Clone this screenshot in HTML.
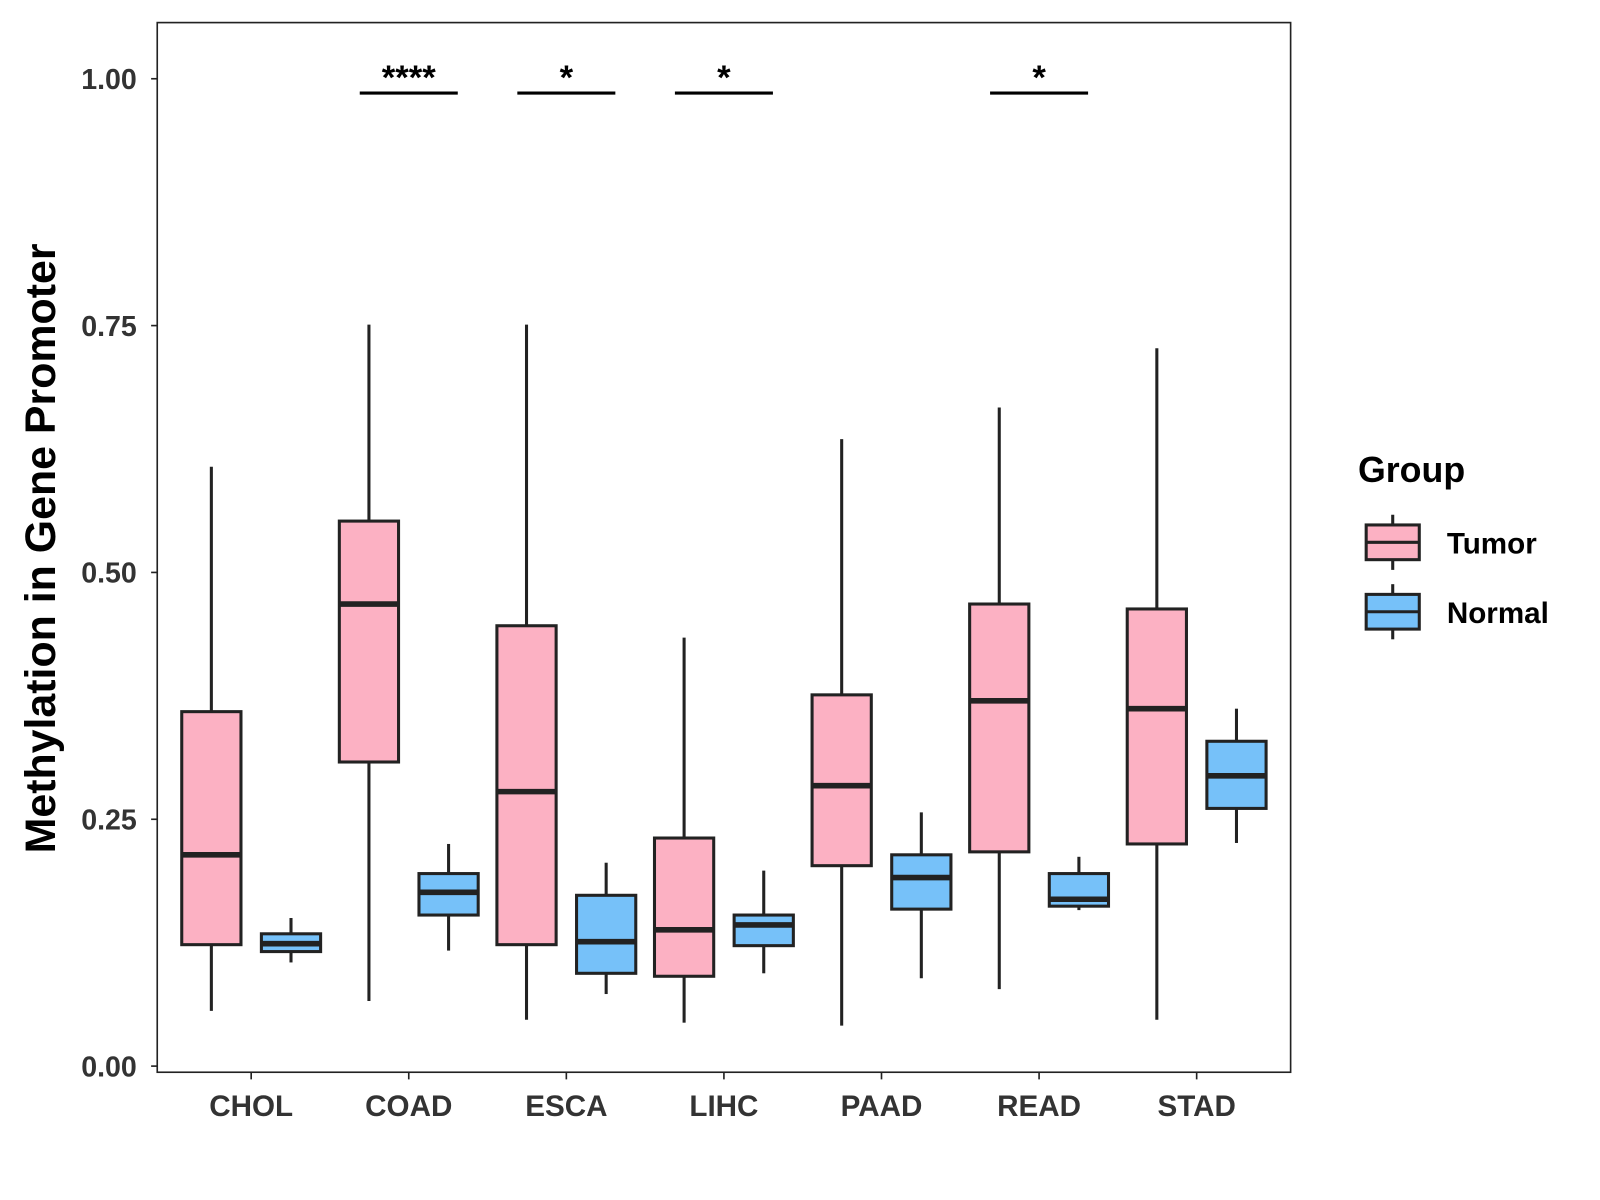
<!DOCTYPE html>
<html><head><meta charset="utf-8"><style>body{margin:0;background:#fff}svg{display:block}</style></head>
<body>
<svg id="chart" width="1600" height="1200" viewBox="0 0 1567 1175" xmlns="http://www.w3.org/2000/svg" font-family="Liberation Sans, Arial, sans-serif">
<rect x="0" y="0" width="1567" height="1175" fill="#fff"/>
<rect x="154" y="22" width="1110" height="1028" fill="none" stroke="#222" stroke-width="1.6"/>
<g id="g"></g>
<text transform="translate(54,537) rotate(-90)" text-anchor="middle" font-size="42" font-weight="bold" fill="#000">Methylation in Gene Promoter</text>
<g>
<text x="1330" y="472" font-size="35" font-weight="bold">Group</text>
<g>
<line x1="1364" y1="504" x2="1364" y2="558" stroke="#222" stroke-width="3"/>
<rect x="1338" y="514" width="52" height="34" fill="#FCB1C3" stroke="#222" stroke-width="3"/>
<line x1="1338" y1="531" x2="1390" y2="531" stroke="#222" stroke-width="3"/>
<text x="1417" y="542" font-size="29" font-weight="bold">Tumor</text></g>
<g>
<line x1="1364" y1="572" x2="1364" y2="626" stroke="#222" stroke-width="3"/>
<rect x="1338" y="582" width="52" height="34" fill="#76C1F9" stroke="#222" stroke-width="3"/>
<line x1="1338" y1="599" x2="1390" y2="599" stroke="#222" stroke-width="3"/>
<text x="1417" y="610" font-size="29" font-weight="bold">Normal</text></g>
</g>
</svg>
<script>
const categories=["CHOL","COAD","ESCA","LIHC","PAAD","READ","STAD"];
// [whiskerLow, q1, median, q3, whiskerHigh]
const tumor=[[0.056,0.123,0.214,0.359,0.607],[0.066,0.308,0.468,0.552,0.751],[0.047,0.123,0.278,0.446,0.751],[0.044,0.091,0.138,0.231,0.434],[0.041,0.203,0.284,0.376,0.635],[0.078,0.217,0.370,0.468,0.667],[0.047,0.225,0.362,0.463,0.727]];
const normal=[[0.105,0.116,0.124,0.134,0.150],[0.117,0.153,0.176,0.195,0.225],[0.073,0.094,0.126,0.173,0.206],[0.094,0.122,0.143,0.153,0.198],[0.089,0.159,0.191,0.214,0.257],[0.158,0.162,0.169,0.195,0.212],[0.226,0.261,0.294,0.329,0.362]];
const yTicks=[0,0.25,0.5,0.75,1.0];
const yTickLabels=["0.00","0.25","0.50","0.75","1.00"];
const sigCats=["COAD","ESCA","LIHC","READ"];
const sigLabels=["****","*","*","*"];
const sigLevel=0.9855;

const NS="http://www.w3.org/2000/svg";
const g=document.getElementById('g');
const y=v=>1044-v*967;
const x=i=>246+i*154.33;
function el(tag,attrs,parent){const e=document.createElementNS(NS,tag);for(const k in attrs)e.setAttribute(k,attrs[k]);(parent||g).appendChild(e);return e;}
yTicks.forEach((t,i)=>{
  const l=el('line',{x1:148,x2:154,y1:y(t),y2:y(t),stroke:'#222','stroke-width':1.6});
  
  
  const tx=el('text',{x:134,y:y(t)+10,'text-anchor':'end','font-size':28,'font-weight':'bold',fill:'#333'});
  tx.textContent=yTickLabels[i];
  
  
});
categories.forEach((c,i)=>{
  const l=el('line',{x1:x(i),x2:x(i),y1:1050,y2:1057,stroke:'#222','stroke-width':1.6});
  
  
  const tx=el('text',{x:x(i),y:1093,'text-anchor':'middle','font-size':29,'font-weight':'bold',fill:'#333'});
  tx.textContent=c;
  
  
});
function box(cx,d,fill,name){
  const grp=el('g',{});
  
  
  const hw=29;
  el('line',{x1:cx,x2:cx,y1:y(d[0]),y2:y(d[1]),stroke:'#222','stroke-width':3},grp);
  el('line',{x1:cx,x2:cx,y1:y(d[3]),y2:y(d[4]),stroke:'#222','stroke-width':3},grp);
  el('rect',{x:cx-hw,y:y(d[3]),width:2*hw,height:y(d[1])-y(d[3]),fill:fill,stroke:'#222','stroke-width':3},grp);
  el('line',{x1:cx-hw,x2:cx+hw,y1:y(d[2]),y2:y(d[2]),stroke:'#222','stroke-width':5.5},grp);
}
categories.forEach((c,i)=>{
  box(x(i)-39,tumor[i],'#FCB1C3','box-tumor-'+c.toLowerCase());
  box(x(i)+39,normal[i],'#76C1F9','box-normal-'+c.toLowerCase());
});
sigCats.forEach((c,j)=>{
  const i=categories.indexOf(c);
  const l=el('line',{x1:x(i)-48,x2:x(i)+48,y1:y(sigLevel),y2:y(sigLevel),stroke:'#000','stroke-width':3});
  
  
  const tx=el('text',{x:x(i),y:y(sigLevel)-4,'text-anchor':'middle','font-size':34,'font-weight':'bold',fill:'#000'});
  tx.textContent=sigLabels[j];
  
  
});
</script>
</body></html>
